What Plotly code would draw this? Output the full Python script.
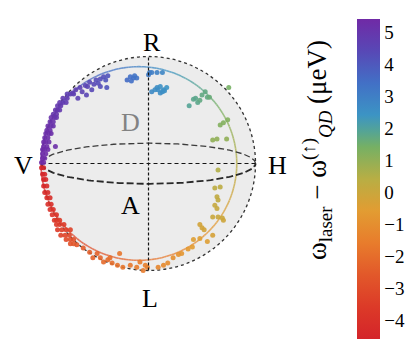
import numpy as np
import plotly.graph_objects as go
from plotly.colors import sample_colorscale

# ---------------- data (projected Poincaré-sphere coordinates, detuning in µeV) ----------------
stokes_x = [
    # purple band (V -> upper left)
    -1.00, -0.98, -0.99, -0.97, -0.99, -0.96, -0.99, -0.97, -0.94, -0.98, -0.95,
    -0.98, -0.96, -0.93, -0.97, -0.94, -0.96, -0.93, -0.91, -0.95, -0.92,
    -0.94, -0.91, -0.89, -0.92, -0.89, -0.91, -0.88, -0.86, -0.89, -0.86,
    -0.87, -0.85, -0.83, -0.85, -0.82, -0.83, -0.80, -0.77, -0.80, -0.76,
    -0.76, -0.73, -0.70, -0.87,
    # upper-left scatter
    -0.71, -0.68, -0.64, -0.59, -0.62, -0.57, -0.55, -0.51, -0.53, -0.49,
    -0.45, -0.42, -0.40, -0.45, -0.38, -0.47, -0.58, -0.66, -0.39,
    # top
    -0.20, -0.17, -0.14, -0.11, -0.13, -0.16,
    0.00, 0.01, 0.03, 0.08, 0.13,
    0.03, 0.06, 0.08, 0.09, 0.11, 0.13, 0.14, 0.17, 0.11, 0.15,
    # upper right
    0.38, 0.42, 0.44, 0.46, 0.48, 0.50, 0.55, 0.57, 0.53,
    0.75, 0.67, 0.70, 0.74, 0.60, 0.64, 0.73,
    # lower right
    0.65, 0.62, 0.67, 0.64, 0.65, 0.62, 0.64, 0.60, 0.65, 0.69, 0.70,
    0.48, 0.50, 0.52, 0.60,
    # bottom right
    0.42, 0.48, 0.55, 0.31, 0.41, 0.23, 0.18, 0.14, 0.09, 0.28, 0.37,
    # bottom
    -0.01, -0.05, -0.03, -0.11, -0.17, -0.24, -0.29, -0.27, -0.34, -0.38,
    -0.42, -0.45, -0.48, -0.55, -0.61, -0.67, -0.52, -0.36, -0.08,
    # red band (V -> lower left)
    -1.00, -0.98, -0.99, -0.97, -0.98, -0.96, -0.98, -0.95, -0.97, -0.94,
    -0.95, -0.92, -0.94, -0.91, -0.92, -0.89, -0.90, -0.86,
    -0.88, -0.86, -0.83, -0.86, -0.83, -0.79, -0.85, -0.81, -0.77, -0.73,
    -0.82, -0.78, -0.74, -0.77, -0.73, -0.70, -0.73, -0.70,
]
stokes_y = [
    0.01, 0.01, 0.05, 0.05, 0.09, 0.09, 0.13, 0.13, 0.13, 0.16, 0.16,
    0.20, 0.20, 0.20, 0.24, 0.24, 0.28, 0.28, 0.28, 0.31, 0.31,
    0.35, 0.35, 0.35, 0.39, 0.39, 0.43, 0.43, 0.43, 0.46, 0.46,
    0.50, 0.50, 0.50, 0.54, 0.54, 0.57, 0.57, 0.57, 0.61, 0.61,
    0.65, 0.65, 0.65, 0.16,
    0.66, 0.69, 0.71, 0.73, 0.67, 0.72, 0.76, 0.74, 0.69, 0.78,
    0.79, 0.81, 0.78, 0.72, 0.82, 0.75, 0.64, 0.61, 0.71,
    0.78, 0.81, 0.80, 0.80, 0.82, 0.77,
    0.83, 0.85, 0.85, 0.85, 0.85,
    0.67, 0.69, 0.71, 0.69, 0.72, 0.67, 0.69, 0.71, 0.66, 0.68,
    0.54, 0.60, 0.61, 0.57, 0.59, 0.64, 0.62, 0.62, 0.67,
    0.71, 0.36, 0.38, 0.41, 0.22, 0.23, 0.23,
    -0.06, -0.23, -0.22, -0.31, -0.34, -0.39, -0.42, -0.50, -0.50, -0.51, -0.53,
    -0.57, -0.60, -0.62, -0.67,
    -0.71, -0.70, -0.73, -0.84, -0.78, -0.88, -0.93, -0.95, -0.97, -0.85, -0.80,
    -0.97, -1.00, -0.95, -0.97, -0.95, -0.97, -0.95, -0.84, -0.93, -0.90,
    -0.92, -0.88, -0.84, -0.83, -0.79, -0.76, -0.88, -0.88, -0.92,
    -0.04, -0.04, -0.10, -0.10, -0.15, -0.15, -0.21, -0.21, -0.27, -0.27,
    -0.32, -0.32, -0.38, -0.38, -0.43, -0.43, -0.48, -0.48,
    -0.53, -0.53, -0.53, -0.57, -0.57, -0.57, -0.62, -0.62, -0.62, -0.62,
    -0.67, -0.67, -0.67, -0.71, -0.71, -0.71, -0.75, -0.75,
]
detuning = [
    5.0, 5.0, 5.0, 4.9, 4.9, 4.9, 4.9, 4.9, 4.9, 4.9, 4.9,
    4.9, 4.9, 4.8, 4.8, 4.8, 4.8, 4.8, 4.8, 4.8, 4.8,
    4.8, 4.7, 4.7, 4.7, 4.7, 4.7, 4.7, 4.6, 4.6, 4.6,
    4.6, 4.6, 4.5, 4.5, 4.5, 4.5, 4.4, 4.4, 4.4, 4.4,
    4.3, 4.3, 4.2, 4.8,
    4.3, 4.3, 4.2, 4.1, 4.2, 4.1, 4.0, 4.0, 4.0, 3.9,
    3.8, 3.8, 3.7, 3.9, 3.7, 3.9, 4.1, 4.2, 3.7,
    3.1, 3.0, 3.0, 2.9, 2.9, 3.0,
    2.7, 2.6, 2.6, 2.5, 2.4,
    2.3, 2.2, 2.2, 2.2, 2.1, 2.1, 2.1, 2.0, 2.2, 2.1,
    1.5, 1.4, 1.4, 1.4, 1.3, 1.3, 1.3, 1.2, 1.3,
    1.0, 0.8, 0.8, 0.8, 0.6, 0.6, 0.6,
    0.1, -0.1, -0.1, -0.2, -0.2, -0.3, -0.3, -0.4, -0.4, -0.4, -0.5,
    -0.6, -0.6, -0.6, -0.7,
    -0.9, -0.9, -0.9, -1.2, -1.0, -1.4, -1.5, -1.6, -1.7, -1.3, -1.1,
    -1.9, -2.0, -1.9, -2.0, -2.1, -2.2, -2.3, -2.2, -2.4, -2.5,
    -2.5, -2.6, -2.7, -2.8, -2.9, -3.0, -2.7, -2.4, -2.0,
    -4.9, -4.9, -4.9, -4.8, -4.8, -4.8, -4.8, -4.7, -4.7, -4.7,
    -4.6, -4.6, -4.5, -4.5, -4.4, -4.4, -4.3, -4.3,
    -4.2, -4.2, -4.1, -4.1, -4.0, -4.0, -4.0, -3.9, -3.9, -3.8,
    -3.8, -3.7, -3.6, -3.5, -3.4, -3.3, -3.2, -3.1,
]
cbar_ticks = [5, 4, 3, 2, 1, 0, -1, -2, -3, -4, -5]
fit_center = [-0.09, 0.0]
fit_radius = [0.915, 0.905]
det_min, det_max = -5, 5
pole_labels = ["R", "L", "V", "H", "D", "A"]

# ---------------- style ----------------
colorscale = [
    [0.00, "rgb(212,36,42)"],
    [0.10, "rgb(220,58,40)"],
    [0.20, "rgb(226,88,42)"],
    [0.30, "rgb(232,124,44)"],
    [0.40, "rgb(226,156,50)"],
    [0.50, "rgb(184,174,68)"],
    [0.60, "rgb(118,176,100)"],
    [0.65, "rgb(84,164,150)"],
    [0.70, "rgb(60,148,196)"],
    [0.80, "rgb(66,112,198)"],
    [0.90, "rgb(88,72,182)"],
    [1.00, "rgb(112,42,166)"],
]
SERIF = "Liberation Serif"
W, H = 414, 347
PX_PER_UNIT = 107.0
CX_PX, CY_PX = 148.5, 163.5
xr = [-CX_PX / PX_PER_UNIT, (W - CX_PX) / PX_PER_UNIT]
yr = [(CY_PX - H) / PX_PER_UNIT, CY_PX / PX_PER_UNIT]

fig = go.Figure()

# sphere body
fig.add_shape(type="circle", xref="x", yref="y", x0=-1, x1=1, y0=-1, y1=1,
              fillcolor="rgb(236,236,236)",
              line=dict(color="rgb(50,50,50)", width=1.3, dash="3px,3px"),
              layer="below")

# fitted trajectory, coloured by detuning
t = np.linspace(-np.pi, np.pi, 241)
cxs = fit_center[0] + fit_radius[0] * np.cos(t)
cys = fit_center[1] + fit_radius[1] * np.sin(t)
seg_vals = det_max * (t[:-1] + t[1:]) / 2 / np.pi
seg_cols = sample_colorscale(colorscale, list((seg_vals - det_min) / (det_max - det_min)))
for i in range(len(t) - 1):
    fig.add_trace(go.Scatter(x=[cxs[i], cxs[i + 1]], y=[cys[i], cys[i + 1]], mode="lines",
                             line=dict(color=seg_cols[i], width=1.6), opacity=0.75,
                             hoverinfo="skip", showlegend=False))

# equator (back and front halves) and axes
phi_b = np.linspace(0, np.pi, 120)
fig.add_trace(go.Scatter(x=np.cos(phi_b), y=0.19 * np.sin(phi_b), mode="lines",
                         line=dict(color="rgb(60,60,60)", width=1.3, dash="6px,3px"),
                         hoverinfo="skip", showlegend=False))
phi_f = np.linspace(np.pi, 2 * np.pi, 120)
fig.add_trace(go.Scatter(x=np.cos(phi_f), y=0.19 * np.sin(phi_f), mode="lines",
                         line=dict(color="rgb(40,40,40)", width=1.8, dash="7px,3px"),
                         hoverinfo="skip", showlegend=False))
fig.add_trace(go.Scatter(x=[-1, 1], y=[0, 0], mode="lines",
                         line=dict(color="rgb(20,20,20)", width=1.2, dash="4px,3px"),
                         hoverinfo="skip", showlegend=False))

# measured points
fig.add_trace(go.Scatter(
    x=stokes_x, y=stokes_y, mode="markers",
    marker=dict(size=5, color=detuning, colorscale=colorscale, cmin=det_min, cmax=det_max,
                opacity=0.9, line=dict(width=0),
                showscale=True,
                colorbar=dict(x=357 / W, xanchor="left", xpad=0,
                              y=1 - 19 / H, yanchor="top", ypad=0,
                              lenmode="pixels", len=320, thickness=23,
                              outlinewidth=0, tickvals=cbar_ticks, ticks="",
                              ticklabelposition="outside bottom",
                              tickfont=dict(family=SERIF, size=19, color="black"))),
    hoverinfo="skip", showlegend=False))

fig.add_trace(go.Scatter(x=[0, 0], y=[-1, 1], mode="lines",
                         line=dict(color="rgb(20,20,20)", width=1.2, dash="3px,2px"),
                         hoverinfo="skip", showlegend=False))

# pole labels
label_pos = {"R": (0.03, 1.135), "L": (0.01, -1.26), "V": (-1.17, -0.02),
             "H": (1.21, -0.02), "D": (-0.17, 0.38), "A": (-0.17, -0.39)}
for lab in pole_labels:
    lx, ly = label_pos[lab]
    fig.add_annotation(x=lx, y=ly, xref="x", yref="y", text=lab, showarrow=False,
                       font=dict(family=SERIF, size=26,
                                 color="rgb(130,130,130)" if lab == "D" else "black"))

# colour bar title
fig.add_annotation(x=338 / W, y=1 - 150 / H, xref="paper", yref="paper",
                   text="ω<sub>laser</sub> − ω<sup>(↑)</sup><sub><i>QD</i></sub> (μeV)",
                   textangle=-90, showarrow=False,
                   font=dict(family=SERIF, size=27, color="black"))

fig.update_layout(
    width=W, height=H,
    margin=dict(l=0, r=0, t=0, b=0, autoexpand=False),
    paper_bgcolor="white", plot_bgcolor="white",
    xaxis=dict(range=xr, visible=False, domain=[0, 1]),
    yaxis=dict(range=yr, visible=False, domain=[0, 1]),
    showlegend=False,
)
fig.write_html("out.html", config={"displayModeBar": False},
               post_script="document.body.style.margin='0px';document.body.style.overflow='hidden';")
